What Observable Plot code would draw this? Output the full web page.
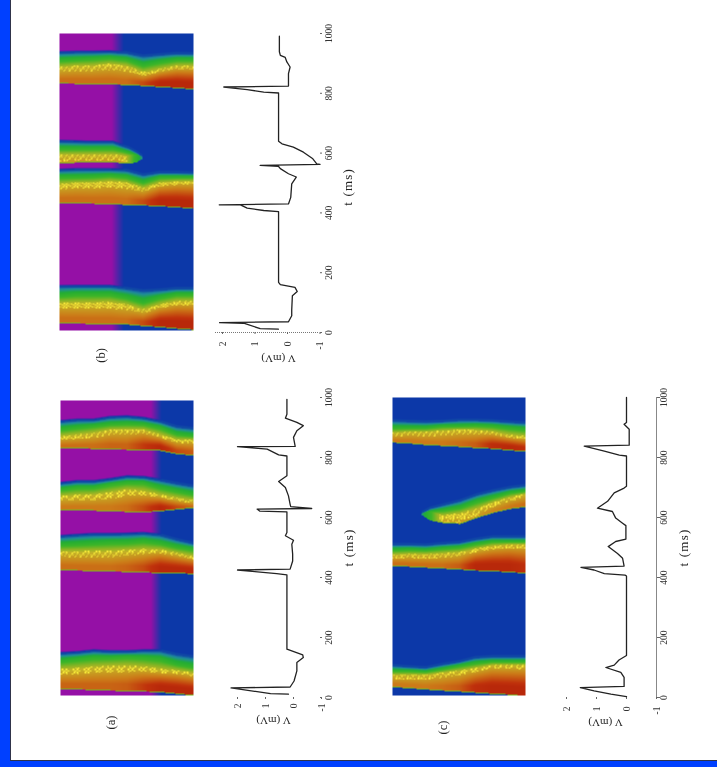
<!DOCTYPE html>
<html>
<head>
<meta charset="utf-8">
<script src="https://cdn.jsdelivr.net/npm/d3@7"></script>
<script src="https://cdn.jsdelivr.net/npm/@observablehq/plot@0.6"></script>
<style>
html,body{margin:0;padding:0;background:#0040ff;width:717px;height:767px;overflow:hidden}
#sheet{position:absolute;left:0;top:0;width:717px;height:767px;filter:blur(.5px)}
#paper{position:absolute;left:10px;top:0;width:707px;height:760.5px;background:#fff;border-left:1.5px solid #30344a;border-bottom:1.5px solid #30344a;box-sizing:border-box}
.p{position:absolute}
.p svg{display:block;overflow:visible}
</style>
</head>
<body>
<div id="sheet"><div id="paper"></div></div>
<script>
// ---- shared ----
const tTicks = [0,200,400,600,800,1000];
const vTicks = [2,1,0,-1];
const depths = [0,.125,.25,.375,.5,.625,.75,.875,1];
const levelValues = [-1,0,.1,.2,.33,.45,.55,.72,.92,1,1.01,1.2];
const levelColors = ["#9510a6","#0c38a8","#1f8c9a","#22ad34","#3cb528","#8eb424","#c4b428","#cc7a18","#c0320c","#b8280a","#f6e838","#f6e838"];

// ---- panel a: trace ----
const aT = [11,13,32,35,55,89,117,133,142,161,409,413,425,428,455,478,511,524,539,550,619,621,628,630,636,644,672,700,720,739,805,809,828,836,837,867,889,906,917,931,944,994];
const aV = [.18,.82,2.23,.12,-.02,-.12,-.12,-.35,-.33,.235,.235,.6,2.0,.12,.03,.03,.06,0,.29,.235,.235,1.2,1.3,-.65,.1,.12,.18,.29,.53,.235,.235,.53,.94,2.0,-.06,0,-.12,-.35,-.12,.29,.235,.235];
// panel a: waves (t at each depth)
const a1Front=[28,26,24,22,21,19,17,11,6];
const a1Yellow=[89,92,97,100,100,97,89,86,78];
const a1Green=[122,128,133,133,136,133,128,111,102];
const a1Tail=[144,147,153,150,150,153,153,141,133];
const a1Peak=[.78,.78,.78,.78,.8,.9,1,1,1];
const a2Front=[424,422,421,419,418,416,414,413,411];
const a2Yellow=[483,483,483,483,487,489,489,478,467];
const a2Green=[509,511,514,517,517,522,514,502,494];
const a2Tail=[534,538,541,541,542,544,539,524,511];
const a2Peak=[.75,.75,.75,.75,.78,.85,1,1,1];
const a3Front=[624,624,622,620,618,617,620,626,631];
const a3Yellow=[667,670,672,678,689,683,672,661,653];
const a3Green=[694,700,700,711,717,717,700,689,678];
const a3Tail=[711,717,717,724,733,731,722,711,702];
const a3Peak=[.72,.72,.72,.72,.75,.85,1,.85,.75];
const a4Front=[830,830,828,826,825,824,822,811,806];
const a4Yellow=[867,872,878,889,889,889,872,856,856];
const a4Green=[894,900,906,911,913,911,900,878,872];
const a4Tail=[917,922,922,931,933,928,917,900,894];
const a4Peak=[.75,.75,.75,.78,.78,.9,1,.85,.8];

// ---- panel b: trace ----
const bT = [11,13,31,33,36,56,75,123,137,151,160,168,404,408,416,427,427,430,452,497,520,531,548,556,559,562,564,581,603,620,631,640,801,804,812,821,824,866,888,905,920,927,939,991];
const bV = [.28,.84,1.35,2.09,-.03,-.13,-.13,-.15,-.3,-.23,.22,.275,.275,.73,1.24,1.45,2.1,-.03,-.1,-.13,-.27,-.03,.22,.28,.84,-1,-.9,-.78,-.49,-.18,.17,.275,.275,.73,1.24,1.96,-.03,-.03,-.08,.02,.07,.22,.25,.25];
const b1Front=[30,29,28,27,26,21,17,12,8];
const b1Yellow=[95,95,95,97,89,73,89,101,101];
const b1Green=[123,128,128,128,117,101,117,128,128];
const b1Tail=[151,152,152,152,145,137,140,145,145];
const b1Peak=[.75,.75,.75,.75,.75,.85,1,1,1];
const b2Front=[432,431,430,428,426,424,421,418,413];
const b2Yellow=[492,497,497,503,497,480,497,503,503];
const b2Green=[520,520,522,525,520,503,520,520,520];
const b2Tail=[540,542,542,542,540,525,533,533,531];
const b2Peak=[.75,.75,.75,.75,.75,.85,1,1,1];
const b3Depth=[0,.2,.4,.47,.52,.58,.62];
const b3Front=[564,569,568,566,564,570,581];
const b3Yellow=[592,592,592,590,585,582,583];
const b3Green=[615,615,615,608,602,592,585];
const b3Tail=[637,634,634,622,615,600,587];
const b3Peak=[.62,.62,.62,.62,.45,.25,.1];
const b4Front=[832,831,830,829,827,824,820,817,812];
const b4Yellow=[883,888,888,894,888,866,877,888,888];
const b4Green=[911,913,916,919,913,894,905,913,913];
const b4Tail=[933,935,935,936,933,922,927,931,930];
const b4Peak=[.75,.75,.75,.75,.75,.85,1,1,1];

// ---- panel c: trace ----
const cT = [3,11,22,33,37,67,84,100,108,125,140,405,408,413,425,434,438,464,480,503,520,528,573,581,598,620,631,654,682,698,704,805,808,821,838,841,894,911,917,1000];
const cV = [0,.52,1.08,1.54,.08,.08,.19,.69,.41,.25,0,0,.05,.74,1.08,1.52,.08,.13,.3,.61,.36,.02,.02,.13,.36,.47,.97,.63,.41,.08,0,0,.24,.74,1.41,-.09,-.09,.08,0,0];
const c1Front=[34,30,26,22,19,15,11,8,3];
const c1Yellow=[73,73,73,80,86,95,106,106,106];
const c1Green=[89,89,86,95,106,115,120,120,120];
const c1Tail=[104,100,97,108,117,131,134,134,134];
const c1Peak=[.72,.72,.72,.75,.8,.95,1,1,1];
const c2Front=[438,435,432,429,426,422,420,417,413];
const c2Yellow=[473,475,475,477,480,492,503,508,508];
const c2Green=[492,494,492,497,501,512,520,520,520];
const c2Tail=[508,508,506,511,514,525,533,533,533];
const c2Peak=[.75,.75,.75,.75,.8,1,1,1,.95];
const c3Depth=[.22,.284,.384,.51,.636,.76,.887,1];
const c3Front=[608,590,581,578,598,615,628,634];
const c3Yellow=[610,610,603,611,625,648,665,676];
const c3Green=[612,620,625,633,654,668,683,689];
const c3Tail=[614,629,640,654,674,687,698,704];
const c3Peak=[.13,.3,.6,.62,.62,.68,.72,.75];
const c4Front=[849,846,841,838,835,831,828,823,819];
const c4Yellow=[879,883,883,886,890,888,883,872,866];
const c4Green=[899,899,899,905,905,907,905,899,894];
const c4Tail=[920,918,916,918,922,922,920,916,913];
const c4Peak=[.72,.72,.72,.72,.75,.8,.95,1,.95];

const wave=(s,f,y,g,t,p)=>({s,f,y,g,t,p});
const font="Liberation Serif";

function at(s,xs,ys){
  const i=Math.min(xs.length-2,Math.max(0,d3.bisectRight(xs,s)-1));
  const u=(s-xs[i])/(xs[i+1]-xs[i]);
  return ys[i]+(ys[i+1]-ys[i])*u;
}
// fixed quadratic stipple standing in for the yellow grain of the original
function grain(s,t,v){
  const ix=Math.round(s*133), iy=Math.round(t*.3);
  return (v>.5&&v<.62&&(ix*ix*3+iy*iy*7+ix*iy)%11<3) ? 1.1 : v;
}
function sampler(waves,bgStart,bgEnd){
  return (s,t)=>{
    const bg = bgEnd==null ? 0 : -1+Math.min(1,Math.max(0,(s-bgStart)/(bgEnd-bgStart)));
    for(const w of waves){
      if(s<w.s[0]||s>w.s[w.s.length-1]) continue;
      const f=at(s,w.s,w.f),Y=at(s,w.s,w.y),G=at(s,w.s,w.g),T=at(s,w.s,w.t),P=at(s,w.s,w.p);
      if(t<f) continue;
      if(t<=f+3) return Math.min(P,.42);
      if(t<=Y){
        const u=(t-f)/(Y-f);
        const v=u<.3?P:P+(.55-P)*(u-.3)/.7;
        return grain(s,t,Math.min(P,v));
      }
      if(t<=G) return grain(s,t,Math.min(P,.55-.27*(t-Y)/(G-Y)));
      if(t<=T) return Math.min(P,.28-.24*(t-G)/(T-G));
      if(t<=T+5) return .02;
      if(t<=T+10) return .02+(bg-.02)*(t-T-5)/5;
    }
    return bg;
  };
}
function place(node,left,top){
  const d=document.createElement("div");d.className="p";
  d.style.left=left+"px";d.style.top=top+"px";
  d.appendChild(node);document.getElementById("sheet").appendChild(d);
  node.querySelectorAll('g[aria-label="text"] text').forEach(e=>{
    if(e.textContent.startsWith("t")) e.style.letterSpacing="1.2px";
  });
}
function heat(o){
  const W=o.x1-o.x0, top=o.t1000, H=o.t0-o.t1000;
  const pxT=1000/H;
  const node=Plot.plot({
    width:W,height:H+50,marginLeft:0,marginRight:0,marginTop:0,marginBottom:50,
    x:{domain:[0,1],axis:null},
    y:{domain:[0,1000],axis:null},
    color:{type:"linear",domain:levelValues,range:levelColors,interpolate:"rgb"},
    style:{fontFamily:font,background:"transparent",overflow:"visible"},
    marks:[
      Plot.raster({x1:0,x2:1,y1:(o.t0-o.yBottom)*pxT,y2:(o.t0-o.yTop)*pxT,fill:sampler(o.waves,o.bgStart,o.bgEnd),pixelSize:1}),
      Plot.text([o.name],{x:()=>(o.labelX-o.x0)/W,y:()=>(o.t0-o.labelY)*pxT,text:d=>d,rotate:-90,fontSize:12.5,fill:"#222"})
    ]
  });
  place(node,o.x0,top);
}
function trace(o){
  const right=o.axisX, left=o.left, top=o.t1000, H=o.t0-o.t1000;
  const pxT=1000/H, vAt=x=>(o.v0-x)/o.pxV;
  const marks=[
    Plot.axisY({anchor:"right",ticks:tTicks,tickFormat:"d",tickSize:o.tickSize,tickPadding:o.tickPad,tickRotate:-90,fontSize:9.5,label:null,stroke:"#666",fill:"#333"}),
    Plot.axisX({anchor:"bottom",ticks:vTicks,tickFormat:d=>String(d),tickSize:2,tickPadding:o.vPad,tickRotate:-90,fontSize:9.5,label:null,stroke:"#666",fill:"#333"}),
    Plot.line(o.T,{x:o.V,y:o.T,stroke:"#222",strokeWidth:1.3,curve:"linear"}),
    Plot.text(["t (ms)"],{x:()=>vAt(o.tLabelX),y:()=>o.tLabelT,text:d=>d,rotate:-90,fontSize:13,fill:"#222"}),
    Plot.text(["V (mV)"],{x:()=>vAt(o.vLabelX),y:()=>(o.t0-o.vLabelY)*pxT,text:d=>d,rotate:180,fontSize:11,fill:"#222"})
  ];
  if(o.axisLine) marks.unshift(Plot.ruleX([vAt(right)],{stroke:"#888",strokeWidth:1}));
  if(o.baseLine) marks.unshift(Plot.ruleY([0],{stroke:"#777",strokeWidth:1,strokeDasharray:"1,1"}));
  const node=Plot.plot({
    width:right-left+50,height:H+50,marginLeft:0,marginRight:50,marginTop:0,marginBottom:50,
    x:{domain:[vAt(left),vAt(right)],axis:null},
    y:{domain:[0,1000],axis:null},
    style:{fontFamily:font,background:"transparent",overflow:"visible"},
    marks
  });
  place(node,left,top);
}

heat({name:"(a)",x0:60,x1:193,t0:697,t1000:397,yTop:400,yBottom:695,labelX:110,labelY:722,bgStart:.68,bgEnd:.76,
  waves:[wave(depths,a1Front,a1Yellow,a1Green,a1Tail,a1Peak),wave(depths,a2Front,a2Yellow,a2Green,a2Tail,a2Peak),wave(depths,a3Front,a3Yellow,a3Green,a3Tail,a3Peak),wave(depths,a4Front,a4Yellow,a4Green,a4Tail,a4Peak)]});
trace({T:aT,V:aV,left:225,axisX:319,t0:697,t1000:397,v0:293,pxV:28,tickSize:2,tickPad:10,vPad:4,tLabelX:348,tLabelT:500,vLabelX:273,vLabelY:720});

heat({name:"(b)",x0:59,x1:193,t0:332,t1000:33,yTop:33,yBottom:330,labelX:100,labelY:355,bgStart:.39,bgEnd:.48,
  waves:[wave(depths,b1Front,b1Yellow,b1Green,b1Tail,b1Peak),wave(depths,b2Front,b2Yellow,b2Green,b2Tail,b2Peak),wave(b3Depth,b3Front,b3Yellow,b3Green,b3Tail,b3Peak),wave(depths,b4Front,b4Yellow,b4Green,b4Tail,b4Peak)]});
trace({T:bT,V:bV,left:215,axisX:319,t0:332,t1000:33,v0:287,pxV:32.5,tickSize:2,tickPad:10,vPad:7,tLabelX:347,tLabelT:487,vLabelX:278,vLabelY:358,baseLine:true});

heat({name:"(c)",x0:392,x1:525,t0:697,t1000:397,yTop:397,yBottom:695,labelX:442,labelY:727,bgStart:0,bgEnd:null,
  waves:[wave(depths,c1Front,c1Yellow,c1Green,c1Tail,c1Peak),wave(depths,c2Front,c2Yellow,c2Green,c2Tail,c2Peak),wave(c3Depth,c3Front,c3Yellow,c3Green,c3Tail,c3Peak),wave(depths,c4Front,c4Yellow,c4Green,c4Tail,c4Peak)]});
trace({T:cT,V:cV,left:555,axisX:656,t0:697,t1000:397,v0:626,pxV:30,tickSize:3,tickPad:7,vPad:7,tLabelX:683,tLabelT:500,vLabelX:605,vLabelY:722,axisLine:true});
</script>
</body>
</html>
